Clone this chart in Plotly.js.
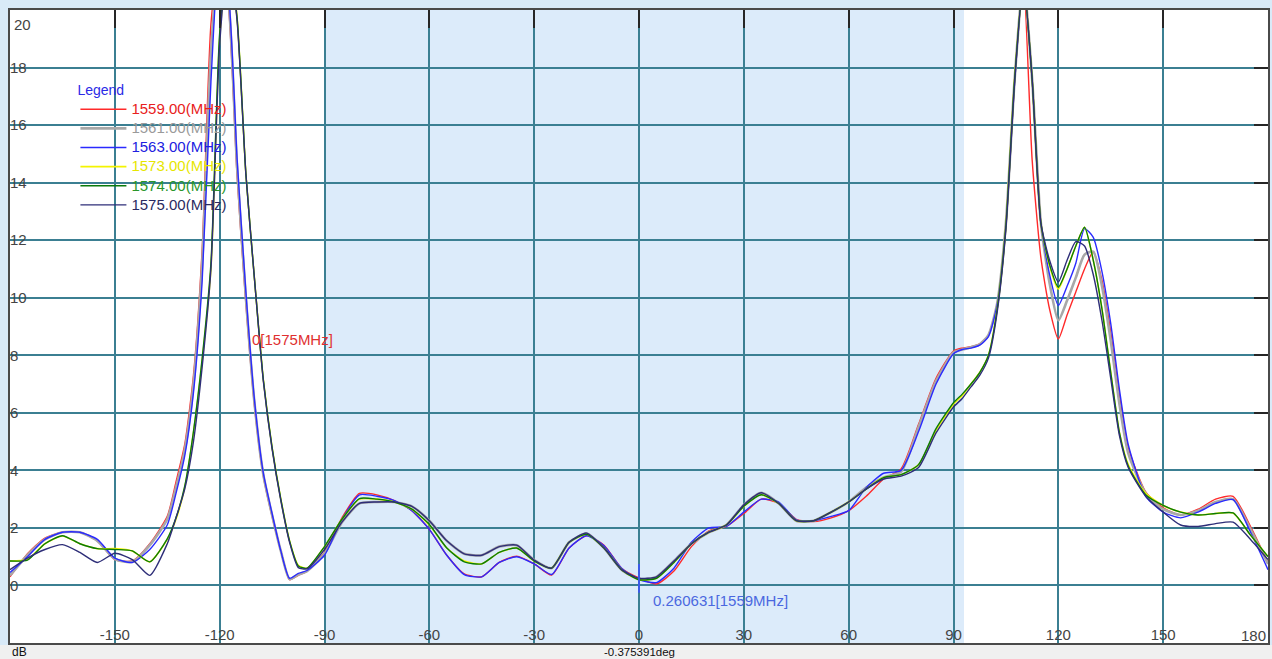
<!DOCTYPE html>
<html>
<head>
<meta charset="utf-8">
<script src="https://cdn.plot.ly/plotly-3.0.1.min.js"></script>
<style>
  html, body { margin: 0; padding: 0; background: #d9eaf8; }
  #chart { width: 1272px; height: 659px; }
</style>
</head>
<body>
<div id="chart"></div>
<script>
// Angle (deg)
const angles = [
  -180,-175,-170,-165,-160,-155,-150,-145,-140,
  -135,-132.5,-130,-127.5,-125,-122.5,-120,-117.5,-115,-112.5,-110,-107.5,-105,-102.5,-100,-97.5,-95,
  -90,-85,-80,-75,-70,-65,-60,-55,-50,-45,-40,-35,-30,-25,-20,-15,-10,-5,
  0,5,10,15,20,25,30,35,40,45,50,55,60,65,70,75,80,85,
  90,92.5,95,97.5,100,102.5,105,107.5,110,112.5,115,117.5,120,122.5,125,127.5,130,132.5,135,137.5,140,
  145,150,155,160,165,170,175,180
];

const f1559 = [
  0.3,1.1,1.65,1.85,1.85,1.55,0.9,0.85,1.45,
  2.4,3.6,4.9,7.3,11.7,19.5,22,20.2,14.2,9.8,6.2,3.8,2.4,1.2,0.2,0.35,0.5,
  1.15,2.35,3.2,3.15,2.95,2.6,1.95,1.05,0.4,0.3,0.8,1.02,0.75,0.36,1.3,1.73,1.4,0.6,
  0.26,0.05,0.5,1.35,1.9,2.05,2.5,3.0,2.85,2.3,2.22,2.35,2.6,3.1,3.7,4.05,5.6,7.2,
  8.15,8.25,8.3,8.4,8.7,9.8,12.6,17.6,21,14.8,11.4,9.6,8.57,9.4,10.2,11.0,11.6,10.6,8.8,6.6,4.8,
  3.25,2.7,2.45,2.65,3.0,3.1,2.05,0.8
];
const f1561 = [
  0.35,1.05,1.6,1.85,1.85,1.55,0.92,0.82,1.4,
  2.3,3.4,4.7,7.0,11.2,18.5,22,20.4,14.5,10.0,6.3,3.85,2.45,1.2,0.22,0.38,0.5,
  1.1,2.2,2.85,2.9,2.9,2.75,2.25,1.55,1.1,1.05,1.35,1.4,0.88,0.6,1.5,1.8,1.3,0.55,
  0.22,0.3,0.85,1.45,1.85,2.1,2.8,3.22,2.85,2.25,2.25,2.55,2.9,3.4,3.75,3.95,5.5,7.1,
  8.1,8.2,8.28,8.38,8.7,9.8,12.6,17.6,21,17.6,12.6,10.5,9.21,9.9,10.7,11.5,11.6,10.4,8.5,6.3,4.6,
  3.2,2.65,2.45,2.6,2.9,3.0,1.95,0.75
];
const f1563 = [
  0.45,1.0,1.6,1.85,1.85,1.6,0.95,0.8,1.25,
  2.1,3.2,4.5,6.7,10.6,17.5,22,20.6,14.8,10.2,6.4,3.9,2.5,1.2,0.25,0.42,0.52,
  1.05,2.3,3.15,3.1,2.95,2.6,1.95,1.05,0.38,0.3,0.8,1.0,0.75,0.38,1.3,1.73,1.38,0.6,
  0.2,0.1,0.6,1.5,2.0,2.05,2.55,3.0,2.9,2.28,2.25,2.4,2.6,3.4,3.9,4.0,5.35,7.0,
  8.05,8.2,8.25,8.35,8.65,9.75,12.5,17.5,21,17.6,12.6,10.8,9.73,10.4,11.2,12.4,12.1,10.9,9.1,6.8,4.9,
  3.1,2.55,2.35,2.55,2.85,2.98,1.85,0.55
];
const f1573 = [
  0.85,0.9,1.45,1.72,1.45,1.28,1.28,1.2,0.82,
  1.6,2.3,3.4,5.3,7.8,11.0,19.0,22,19.7,14.3,10.6,7.15,4.8,3.0,1.55,0.7,0.6,
  1.35,2.3,3.0,3.0,2.9,2.65,2.1,1.3,0.85,0.75,1.15,1.3,0.85,0.6,1.5,1.78,1.3,0.55,
  0.2,0.25,0.8,1.45,1.85,2.1,2.75,3.15,2.85,2.25,2.25,2.55,2.9,3.35,3.75,3.85,4.2,5.4,
  6.3,6.6,7.0,7.4,8.0,9.6,12.5,17.6,21,17.6,12.6,11.1,10.3,11.0,11.8,12.45,11.3,9.6,7.4,5.3,4.2,
  3.2,2.78,2.55,2.45,2.5,2.52,1.75,1.0
];
const f1574 = [
  0.85,0.88,1.45,1.73,1.45,1.28,1.25,1.2,0.82,
  1.62,2.35,3.45,5.35,7.9,11.2,19.2,22,19.7,14.3,10.6,7.15,4.8,3.0,1.55,0.68,0.6,
  1.35,2.3,3.02,3.0,2.9,2.65,2.12,1.3,0.82,0.75,1.15,1.3,0.85,0.6,1.5,1.78,1.3,0.55,
  0.2,0.25,0.8,1.45,1.85,2.1,2.75,3.15,2.85,2.25,2.25,2.55,2.9,3.35,3.75,3.85,4.2,5.45,
  6.35,6.65,7.0,7.4,8.0,9.6,12.5,17.6,21,17.6,12.6,11.15,10.37,11.0,11.8,12.45,11.3,9.6,7.4,5.3,4.15,
  3.15,2.78,2.55,2.45,2.5,2.52,1.75,1.0
];
const f1575 = [
  0.55,0.95,1.25,1.42,1.15,0.8,1.12,0.9,0.35,
  1.45,2.35,3.35,5.0,7.6,11.0,18.8,22,19.6,14.3,10.6,7.1,4.75,2.95,1.5,0.62,0.58,
  1.25,2.2,2.85,2.9,2.9,2.75,2.25,1.55,1.1,1.05,1.35,1.4,0.88,0.6,1.5,1.82,1.3,0.55,
  0.25,0.3,0.85,1.45,1.85,2.1,2.8,3.22,2.85,2.25,2.25,2.55,2.9,3.35,3.7,3.8,4.1,5.3,
  6.2,6.5,6.9,7.3,7.9,9.5,12.4,17.5,21,17.6,12.6,11.3,10.55,11.3,11.95,11.8,10.8,9.2,7.2,5.2,4.1,
  3.1,2.55,2.1,2.05,2.15,2.2,1.6,0.9
];

const seriesNames = ['1559.00(MHz)','1561.00(MHz)','1563.00(MHz)','1573.00(MHz)','1574.00(MHz)','1575.00(MHz)'];
const seriesValues = [f1559, f1561, f1563, f1573, f1574, f1575];
const lineColors = ['#ff2a2a','#a8a8a8','#2a2aff','#f4f400','#0a7a0a','#2e2e78'];
const textColors = ['#e82020','#9a9a9a','#2020e0','#e6e600','#2a962a','#2a2a60'];
const lineWidths = [1.4, 2.6, 1.4, 1.6, 1.4, 1.4];

const xTicks = [-150,-120,-90,-60,-30,0,30,60,90,120,150];
const xTickText = xTicks.map(String);
const yTicks = [0,2,4,6,8,10,12,14,16,18];
const yTickText = yTicks.map(String);

const FONT = 'Liberation Sans, Arial, sans-serif';
const GRID = '#3b7f92';

const traces = seriesValues.map((vals, i) => ({
  type: 'scatter',
  mode: 'lines',
  x: angles,
  y: vals,
  name: '<span style="color:' + textColors[i] + ';font-size:15px">' + seriesNames[i] + '</span>',
  line: { color: lineColors[i], width: lineWidths[i], shape: 'spline', smoothing: 0.6 },
  hoverinfo: 'x+y'
}));
// invisible copy on the mirrored axes so their inside ticks get drawn
traces.push({ type: 'scatter', mode: 'lines', x: angles, y: f1559, xaxis: 'x2', yaxis: 'y2',
  opacity: 0, line: { width: 0 }, showlegend: false, hoverinfo: 'skip' });

const layout = {
  width: 1272, height: 659,
  margin: { l: 10, r: 4, t: 10, b: 16, pad: 0 },
  paper_bgcolor: '#d9eaf8',
  plot_bgcolor: '#ffffff',
  font: { family: FONT, size: 15, color: '#444' },
  showlegend: true,
  legend: {
    x: 0.052, xanchor: 'left', y: 0.895, yanchor: 'top',
    bgcolor: 'rgba(0,0,0,0)', borderwidth: 0,
    title: { text: 'Legend', font: { family: FONT, size: 14, color: '#2a2ae6' } },
    font: { family: FONT, size: 12.4 },
    itemwidth: 46, tracegroupgap: 0
  },
  xaxis: {
    range: [-180, 180], tickvals: xTicks, ticktext: xTickText,
    ticklabelposition: 'inside', ticks: '',
    showgrid: true, gridcolor: GRID, gridwidth: 2, zeroline: false,
    showline: true, linecolor: '#4a4a4a', linewidth: 2, mirror: true,
    tickfont: { family: FONT, size: 15, color: '#444' }, fixedrange: true
  },
  yaxis: {
    range: [-2, 20], tickvals: yTicks, ticktext: yTickText,
    ticklabelposition: 'inside', ticks: '',
    showgrid: true, gridcolor: GRID, gridwidth: 2, zeroline: false,
    showline: true, linecolor: '#4a4a4a', linewidth: 2, mirror: true,
    tickfont: { family: FONT, size: 15, color: '#444' }, fixedrange: true
  },
  xaxis2: {
    overlaying: 'x', side: 'top', anchor: 'y2', range: [-180, 180], tickvals: xTicks,
    ticks: 'inside', ticklen: 18, tickwidth: 2, tickcolor: '#262626',
    showticklabels: false, showgrid: false, zeroline: false, showline: false, fixedrange: true
  },
  yaxis2: {
    overlaying: 'y', side: 'right', anchor: 'x2', range: [-2, 20], tickvals: yTicks,
    ticks: 'inside', ticklen: 14, tickwidth: 2, tickcolor: '#262626',
    showticklabels: false, showgrid: false, zeroline: false, showline: false, fixedrange: true
  },
  shapes: [
    { type: 'rect', xref: 'x', yref: 'paper', x0: -90, x1: 93, y0: 0, y1: 1,
      fillcolor: '#dcebfa', line: { width: 0 }, layer: 'below' },
    { type: 'rect', xref: 'paper', yref: 'paper', x0: -0.01, x1: 1.01, y0: -0.03, y1: -0.003,
      fillcolor: '#f0f0f0', line: { width: 0 }, layer: 'below' },
    { type: 'line', xref: 'x', yref: 'y', x0: 0, x1: 0, y0: -0.25, y1: 0.75,
      line: { color: '#3a5ae8', width: 2 } }
  ],
  annotations: [
    { text: '20', xref: 'paper', yref: 'paper', x: 0, y: 0.994, xanchor: 'left', yanchor: 'top',
      xshift: 2, showarrow: false, font: { family: FONT, size: 15, color: '#444' } },
    { text: '180', xref: 'paper', yref: 'paper', x: 1, y: -0.004, xanchor: 'right', yanchor: 'bottom',
      showarrow: false, font: { family: FONT, size: 15, color: '#444' } },
    { text: '0[1575MHz]', xref: 'x', yref: 'y', x: -111.3, y: 8.54, xanchor: 'left', yanchor: 'middle',
      showarrow: false, font: { family: FONT, size: 15, color: '#e03030' } },
    { text: '0.260631[1559MHz]', xref: 'x', yref: 'y', x: 3.5, y: -0.54, xanchor: 'left', yanchor: 'middle',
      showarrow: false, font: { family: FONT, size: 15, color: '#4a68e0' } },
    { text: 'dB', xref: 'paper', yref: 'paper', x: 0, y: -0.0135, xanchor: 'left', yanchor: 'middle',
      showarrow: false, font: { family: FONT, size: 12, color: '#111' } },
    { text: '-0.375391deg', xref: 'paper', yref: 'paper', x: 0.5, y: -0.0135, xanchor: 'center', yanchor: 'middle',
      showarrow: false, font: { family: FONT, size: 11.5, color: '#111' } }
  ]
};

Plotly.newPlot('chart', traces, layout, { displayModeBar: false, staticPlot: true });
</script>
</body>
</html>
